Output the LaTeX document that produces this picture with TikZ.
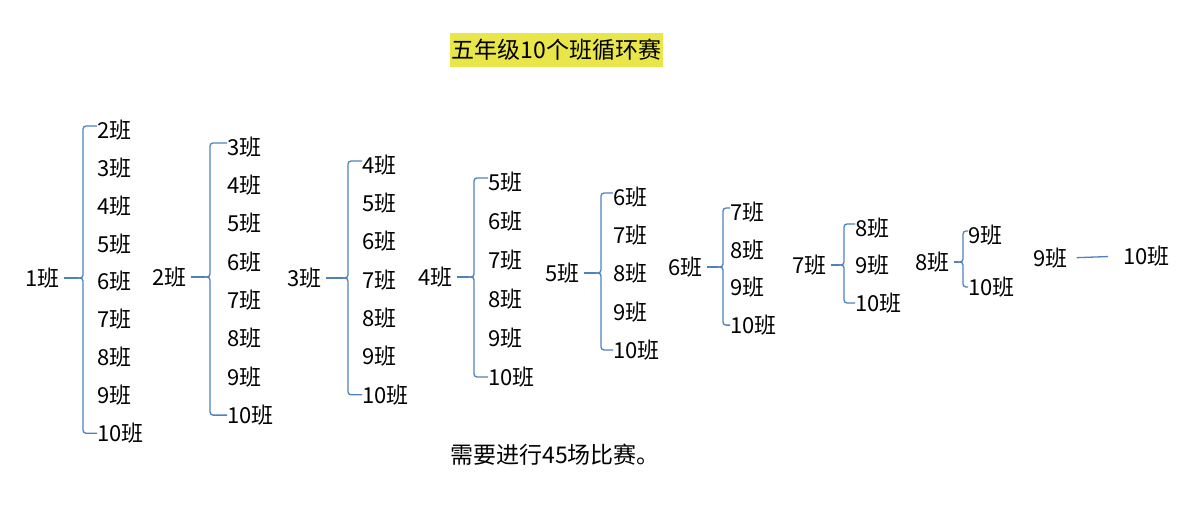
\documentclass[tikz,border=0pt]{standalone}
\usepackage{fontspec}
\setmainfont{Noto Sans CJK SC}
\usepackage{xcolor}
\usetikzlibrary{positioning}
\definecolor{linkblue}{RGB}{79,129,189}
\definecolor{hlyellow}{RGB}{232,230,72}
\tikzset{>=latex}
\tikzset{
  cls/.style={inner sep=0pt,anchor=west,font=\fontsize{22}{26}\selectfont},
  brace/.style={draw=linkblue,line width=1.3pt,rounded corners=3pt},
  link/.style={draw=linkblue,line width=1.3pt}
}

\begin{document}
\begin{tikzpicture}[x=1pt,y=-1pt]
  \useasboundingbox (0,0) rectangle (1193,512);

  % Title
  \node[fill=hlyellow,inner xsep=2pt,minimum height=34pt,font=\fontsize{23}{27}\selectfont] (title) at (556.5,50) {五年级10个班循环赛};

  % Groups: class k against the classes after it
  \foreach \k/\rx/\ry/\bx/\cx/\cy/\st in {
      1/25/278/83/97/130/37.9,
      2/152/277/210/227/147/38.3,
      3/287/278/348/362/165/38.3,
      4/418/277/474/488/182/39,
      5/545/273/601/613/197/38.25,
      6/668/267/723/730/212/37.7,
      7/792/265/844/855/228/37.5,
      8/915/262/963/968/235/52}{
    \pgfmathtruncatemacro{\f}{\k+1}
    \node[cls] (r\k) at (\rx,\ry) {\k{}班};
    \foreach \j [count=\i from 0] in {\f,...,10}
      \node[cls] (c\k-\j) at (\cx,\cy+\i*\st) {\j{}班};
    % Brace
    \coordinate (v\k) at (\bx,\ry);
    \coordinate (m\k) at (\bx-5,\ry);
    \coordinate (a\k) at ([yshift=4pt]c\k-\f.west);
    \draw[brace] (a\k) -- (a\k -| v\k) -- (v\k) -- (m\k);
    \draw[brace] (c\k-10.west) -- (c\k-10.west -| v\k) -- (v\k) -- (m\k);
    \draw[link,shorten <=4pt] (r\k.east) -- (m\k);
  }

  % Last pair
  \node[cls] (r9) at (1033,258) {9班};
  \node[cls] (c9-10) at (1123,256) {10班};
  \draw[link,shorten <=9pt,shorten >=15pt] (r9.east) -- (c9-10.west);

  % Label
  \node[font=\fontsize{23}{27}\selectfont] (total) at (555,455) {需要进行45场比赛。};
\end{tikzpicture}
\end{document}
